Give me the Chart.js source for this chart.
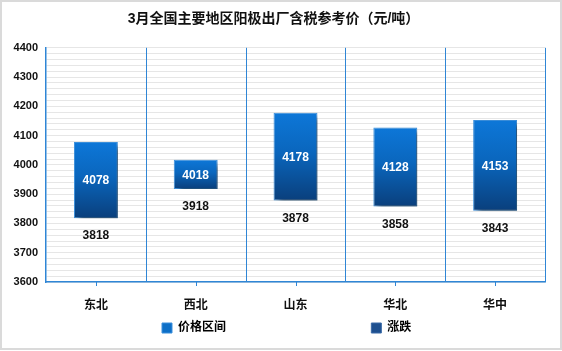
<!DOCTYPE html>
<html>
<head>
<meta charset="utf-8">
<script src="https://cdn.jsdelivr.net/npm/chart.js@4/dist/chart.umd.min.js"></script>
<style>
html,body{margin:0;padding:0;background:#fff;}
#wrap{position:absolute;left:0;top:0;width:562px;height:350px;box-sizing:border-box;border:2px solid #dadada;background:#fff;}
#c{position:absolute;left:0;top:0;}
</style>
</head>
<body>
<div id="wrap"><canvas id="c" width="558" height="346"></canvas></div>
<script>
const categories = ['东北', '西北', '山东', '华北', '华中'];
const lowValues = [3818, 3918, 3878, 3858, 3843];
const highValues = [4078, 4018, 4178, 4128, 4153];
const seriesNames = ['价格区间', '涨跌'];
const yMin = 3600, yMax = 4400;

const FONT = 'Arial, "Liberation Sans", "Noto Sans CJK SC", sans-serif';
const LEGEND_PAD = 10;
const AXIS_BLUE = '#2f86d6';

function barGradient(ctx) {
  const chart = ctx.chart;
  const ys = chart.scales.y;
  if (!ys || ctx.dataIndex === undefined) return '#0d6fc7';
  const top = ys.getPixelForValue(highValues[ctx.dataIndex]);
  const bot = ys.getPixelForValue(lowValues[ctx.dataIndex]);
  if (!isFinite(top) || !isFinite(bot)) return '#0d6fc7';
  const g = chart.ctx.createLinearGradient(0, top, 0, bot);
  g.addColorStop(0, '#0d77d8');
  g.addColorStop(0.45, '#0a66bd');
  g.addColorStop(1, '#0a3f7c');
  return g;
}

const shadowPlugin = {
  id: 'shadow',
  beforeDatasetDraw(chart, args) {
    if (args.index !== 0) return;
    const c = chart.ctx;
    c.save();
    c.shadowColor = 'rgba(0,0,0,0.5)';
    c.shadowBlur = 5;
    c.shadowOffsetX = 4;
    c.shadowOffsetY = 4;
  },
  afterDatasetDraw(chart, args) {
    if (args.index !== 0) return;
    chart.ctx.restore();
  }
};

const legendShift = {
  id: 'legendShift',
  afterLayout(chart) {
    if (chart.legend) {
      chart.legend.left = 160 - LEGEND_PAD;
    }
  }
};

// category divider lines and centre tick marks, placed from the x scale's own category positions
const dividerPlugin = {
  id: 'dividers',
  beforeDatasetsDraw(chart) {
    const xs = chart.scales.x;
    const area = chart.chartArea;
    const c = chart.ctx;
    const n = categories.length;
    c.save();
    c.shadowColor = 'rgba(0,0,0,0)';
    c.shadowBlur = 0;
    c.strokeStyle = AXIS_BLUE;
    c.lineWidth = 1;
    for (let i = 0; i < n; i++) {
      const next = i < n - 1 ? xs.getPixelForValue(i + 1) : null;
      const cur = xs.getPixelForValue(i);
      const edge = next !== null ? (cur + next) / 2 : cur + (cur - xs.getPixelForValue(i - 1)) / 2;
      const x = Math.round(edge) + 0.5;
      c.beginPath();
      c.moveTo(x, area.top);
      c.lineTo(x, area.bottom);
      c.stroke();
      const tx = Math.round(cur) + 0.5;
      c.beginPath();
      c.moveTo(tx, area.bottom);
      c.lineTo(tx, area.bottom + 4);
      c.stroke();
    }
    c.restore();
  }
};

const labelPlugin = {
  id: 'valueLabels',
  afterDatasetsDraw(chart) {
    const meta = chart.getDatasetMeta(0);
    const ys = chart.scales.y;
    const c = chart.ctx;
    c.save();
    c.font = 'bold 12px ' + FONT;
    c.textAlign = 'center';
    c.textBaseline = 'middle';
    meta.data.forEach((bar, i) => {
      const top = ys.getPixelForValue(highValues[i]);
      const bot = ys.getPixelForValue(lowValues[i]);
      c.fillStyle = '#ffffff';
      c.fillText(String(highValues[i]), bar.x, (top + bot) / 2 + 1);
      c.fillStyle = '#111111';
      c.fillText(String(lowValues[i]), bar.x, bot + 18);
    });
    c.restore();
  }
};

new Chart(document.getElementById('c'), {
  type: 'bar',
  data: {
    labels: categories,
    datasets: [
      {
        label: seriesNames[0],
        data: categories.map((_, i) => [lowValues[i], highValues[i]]),
        backgroundColor: barGradient,
        borderColor: '#3a8fdc',
        borderWidth: 1,
        borderSkipped: false,
        barPercentage: 0.44,
        categoryPercentage: 1.0,
        grouped: false
      },
      {
        label: seriesNames[1],
        data: categories.map(() => null),
        backgroundColor: '#1d4f8f',
        borderColor: '#1d4f8f',
        borderWidth: 0,
        grouped: false
      }
    ]
  },
  options: {
    responsive: false,
    animation: false,
    devicePixelRatio: 1,
    layout: { padding: { left: 0, right: 15, top: 0, bottom: 4 } },
    plugins: {
      title: {
        display: true,
        text: '3月全国主要地区阳极出厂含税参考价（元/吨）',
        color: '#111',
        font: { family: FONT, size: 14, weight: 'bold' },
        padding: { top: 9, bottom: 20 }
      },
      legend: {
        position: 'bottom',
        align: 'start',
        labels: {
          color: '#111',
          font: { family: FONT, size: 12, weight: 'bold' },
          boxWidth: 10,
          boxHeight: 10,
          padding: LEGEND_PAD,
          generateLabels(chart) {
            return chart.data.datasets.map((ds, i) => ({
              text: i === 0 ? ds.label + '\u3000\u3000\u3000\u3000\u3000\u3000\u3000\u3000\u3000\u3000\u3000 ' : ds.label,
              fillStyle: i === 0 ? '#0d6fc7' : '#1d4f8f',
              strokeStyle: i === 0 ? '#3a8fdc' : '#3a6aa8',
              lineWidth: 1,
              hidden: false,
              datasetIndex: i
            }));
          }
        }
      },
      tooltip: { enabled: false }
    },
    scales: {
      x: {
        offset: true,
        afterFit(scale) { scale.height = 30; },
        grid: { display: false },
        border: { display: true, color: AXIS_BLUE, width: 1.5 },
        ticks: {
          color: '#111',
          font: { family: FONT, size: 12, weight: 'bold' },
          padding: 8
        }
      },
      y: {
        min: yMin,
        max: yMax,
        afterFit(scale) { scale.width = 44; },
        grid: {
          color: '#e6e6e6',
          lineWidth: 1,
          drawTicks: false
        },
        border: { display: true, color: AXIS_BLUE, width: 1.5 },
        ticks: {
          stepSize: 20,
          autoSkip: false,
          color: '#111',
          font: { family: FONT, size: 11, weight: 'bold' },
          padding: 8,
          callback(v) { return v % 100 === 0 ? String(v) : ''; }
        }
      }
    }
  },
  plugins: [dividerPlugin, shadowPlugin, labelPlugin, legendShift]
});
</script>
</body>
</html>
